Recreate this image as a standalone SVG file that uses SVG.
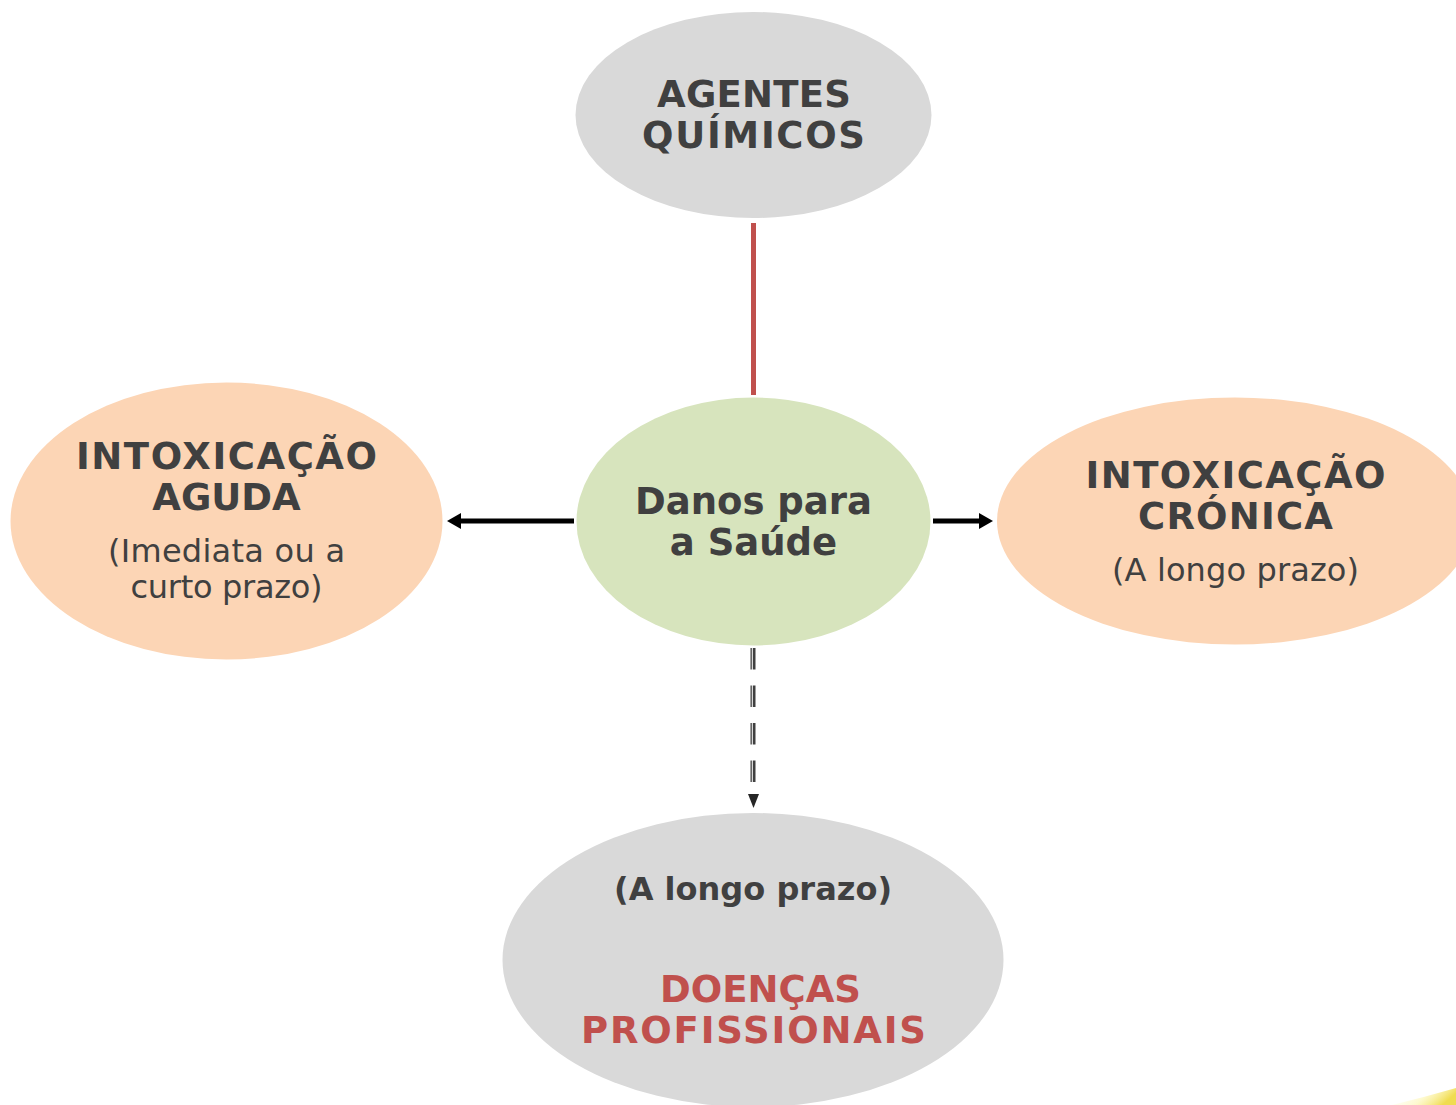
<svg xmlns="http://www.w3.org/2000/svg" width="1456" height="1105" viewBox="0 0 1456 1105">
<style>
text{font-family:"DejaVu Sans",Verdana,sans-serif;fill:#404040;text-anchor:middle}
.b{font-weight:700;font-size:37px}
.r{font-size:32px}
.s{font-weight:700;font-size:32px}
.red{fill:#c0504d}
.grey{fill:#d9d9d9}
.peach{fill:#fcd5b5}
.green{fill:#d7e4bd}
.arrow{stroke:#000;stroke-width:5;fill:none}
</style>
<defs>
<linearGradient id="y" x1="0" y1="0" x2="1" y2="0.3"><stop offset="0" stop-color="#fffde8" stop-opacity="0"/><stop offset="0.6" stop-color="#fdf6b0" stop-opacity="0.6"/><stop offset="1" stop-color="#f0dc50"/></linearGradient>
</defs>
<rect width="1456" height="1105" fill="#fff"/>
<path d="M1392 1105Q1425 1097 1456 1088V1105Z" fill="url(#y)"/>
<g id="connectors">
<line x1="753.500" y1="223" x2="753.500" y2="395" stroke="#c0504d" stroke-width="5"/>
<line class="arrow" x1="574" y1="521" x2="456" y2="521"/>
<path d="M447 521L461 513V529Z"/>
<line class="arrow" x1="933" y1="521" x2="982" y2="521"/>
<path d="M993 521L979 513V529Z"/>
<line x1="753" y1="648" x2="753" y2="782" stroke="#404040" stroke-width="5" stroke-dasharray="21.500 16"/>
<line x1="752.300" y1="648" x2="752.300" y2="782" stroke="#fff" stroke-width="1"/>
<path d="M748 794H759L753.500 808Z" fill="#262626"/>
</g>
<g id="node-agentes">
<ellipse class="grey" cx="753.500" cy="115" rx="178" ry="103"/>
<text class="b" x="754" y="107" textLength="194">AGENTES</text>
<text class="b" x="753.500" y="148" textLength="223">QUÍMICOS</text>
</g>
<g id="node-danos">
<ellipse class="green" cx="753.500" cy="521.500" rx="177" ry="124"/>
<text class="b" x="753.500" y="514">Danos para</text>
<text class="b" x="753.500" y="555">a Saúde</text>
</g>
<g id="node-aguda">
<ellipse class="peach" cx="226.500" cy="521" rx="216" ry="138.500"/>
<text class="b" x="226.500" y="469" textLength="301">INTOXICAÇÃO</text>
<text class="b" x="226.500" y="510">AGUDA</text>
<text class="r" x="226.500" y="562" textLength="237">(Imediata ou a</text>
<text class="r" x="226.500" y="598" textLength="192">curto prazo)</text>
</g>
<g id="node-cronica">
<ellipse class="peach" cx="1235" cy="521" rx="238" ry="123.500"/>
<text class="b" x="1235.500" y="488" textLength="300">INTOXICAÇÃO</text>
<text class="b" x="1235.500" y="529" textLength="195">CRÓNICA</text>
<text class="r" x="1235.500" y="581" textLength="247">(A longo prazo)</text>
</g>
<g id="node-doencas">
<ellipse class="grey" cx="753" cy="960" rx="250.500" ry="147"/>
<text class="s" x="753" y="900" textLength="278">(A longo prazo)</text>
<text class="b red" x="760.500" y="1002" textLength="201">DOENÇAS</text>
<text class="b red" x="753.500" y="1043" textLength="345">PROFISSIONAIS</text>
</g>
</svg>
